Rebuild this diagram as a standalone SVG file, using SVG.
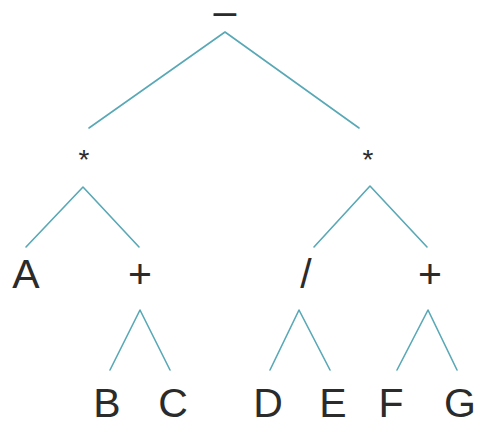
<svg xmlns="http://www.w3.org/2000/svg" width="481" height="425" viewBox="0 0 481 425">
<style>
.t{font-family:"Liberation Sans",Arial,sans-serif;font-size:41px;fill:#2b2b2b;text-anchor:middle}
.s{font-size:28px}
.e{fill:none;stroke:#58a8b6;stroke-width:1.6;stroke-linecap:round;stroke-linejoin:round}
</style>
<rect width="481" height="425" fill="#fff"/>
<g id="connectors" class="e">
<polyline points="89,128 225,32 359,128"/>
<polyline points="26,247 83,187 139,247"/>
<polyline points="314,247 370,186 427,247"/>
<polyline points="110,370 140,310 170,370"/>
<polyline points="270,370 299,310 330,370"/>
<polyline points="397,370 428,310 457,370"/>
</g>
<g id="n-minus"><text class="t" x="225" y="25">–</text></g>
<g id="n-mul1"><text class="t s" x="84" y="169">*</text></g>
<g id="n-mul2"><text class="t s" x="368" y="169">*</text></g>
<g id="n-A"><text class="t" x="26" y="288">A</text></g>
<g id="n-plus1"><text class="t" x="140" y="288">+</text></g>
<g id="n-div"><text class="t" x="306" y="288">/</text></g>
<g id="n-plus2"><text class="t" x="430" y="288">+</text></g>
<g id="n-B"><text class="t" x="107" y="417">B</text></g>
<g id="n-C"><text class="t" x="173" y="417">C</text></g>
<g id="n-D"><text class="t" x="268" y="417">D</text></g>
<g id="n-E"><text class="t" x="333" y="417">E</text></g>
<g id="n-F"><text class="t" x="391" y="417">F</text></g>
<g id="n-G"><text class="t" x="460" y="417">G</text></g>
</svg>
